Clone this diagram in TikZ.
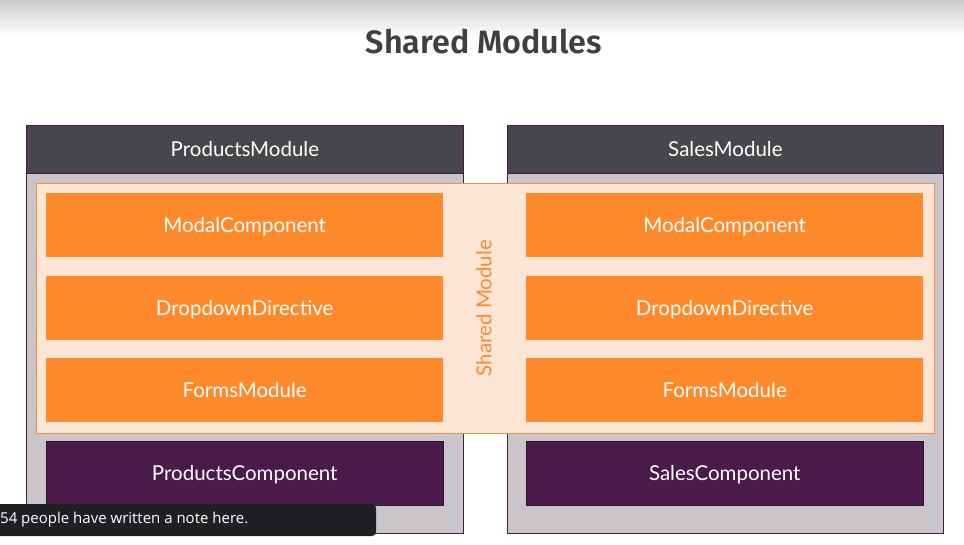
\documentclass[tikz,border=0pt]{standalone}
\usepackage{fontspec}
\setmainfont{Lato}
\newfontfamily\titlefont{Fira Sans}[UprightFont=* SemiBold]
\newfontfamily\notefont{Open Sans}
\begin{document}
\definecolor{headgray}{HTML}{48464A}
\definecolor{bodygray}{HTML}{C9C5C8}
\definecolor{plum}{HTML}{4A1A4A}
\definecolor{peach}{HTML}{FDE5D6}
\definecolor{tangerine}{HTML}{FF8A2C}
\definecolor{orangeline}{HTML}{F0953E}
\definecolor{titlegray}{HTML}{404040}
\definecolor{notebg}{HTML}{1F2023}
\begin{tikzpicture}[x=1pt,y=-1pt,
  boxfont/.style={font=\fontsize{20.5}{20.5}\selectfont,text height=14.5pt,text depth=0pt},
  modbody/.style={draw=plum,line width=0.8pt,fill=bodygray},
  modhead/.style={draw=plum,line width=0.8pt,fill=headgray,text=white,boxfont},
  sharedbox/.style={draw=orangeline,line width=0.8pt,fill=peach},
  item/.style={fill=tangerine,draw=none,text=white,boxfont},
  comp/.style={fill=plum,draw=plum!70!black,line width=0.5pt,text=white,boxfont}]
\useasboundingbox (0,0) rectangle (964,544);
\fill[white] (0,0) rectangle (964,544);
% soft shadow along the top edge
\shade[top color=black!20,bottom color=white] (0,0) rectangle (964,36);
\node[font=\titlefont\fontsize{32.3}{32.3}\selectfont,text=titlegray] (title) at (484,42) {Shared Modules};

% the two feature modules
\draw[modbody] (26,125) rectangle (463,533);
\node[modhead,minimum width=437pt,minimum height=48pt,anchor=north west,inner sep=0pt] (pm) at (26,125) {ProductsModule};
\draw[modbody] (507,125) rectangle (943,533);
\node[modhead,minimum width=436pt,minimum height=48pt,anchor=north west,inner sep=0pt] (sm) at (507,125) {SalesModule};

% shared module spanning both
\draw[sharedbox] (36,183) rectangle (934,433);
\node[rotate=90,text=tangerine,boxfont] (shared) at (484,308) {Shared Module};

% items provided by the shared module
\foreach \name/\txt/\y in {modal/ModalComponent/193, drop/DropdownDirective/276, forms/FormsModule/358}{
  \node[item,minimum width=397pt,minimum height=64pt,anchor=north west,inner sep=0pt] (l\name) at (46,\y) {\txt};
  \node[item,minimum width=397pt,minimum height=64pt,anchor=north west,inner sep=0pt] (r\name) at (526,\y) {\txt};
}

% module-specific components
\node[comp,minimum width=397pt,minimum height=64pt,anchor=north west,inner sep=0pt] (pc) at (46,441) {ProductsComponent};
\node[comp,minimum width=397pt,minimum height=64pt,anchor=north west,inner sep=0pt] (sc) at (526,441) {SalesComponent};

% note banner in the lower left corner
\fill[notebg,rounded corners=4pt] (-6,504) rectangle (376,536);
\node[anchor=west,text=white,font=\notefont\fontsize{15}{15}\selectfont,inner sep=0pt] (note) at (0,520) {54 people have written a note here.};
\end{tikzpicture}
\end{document}
